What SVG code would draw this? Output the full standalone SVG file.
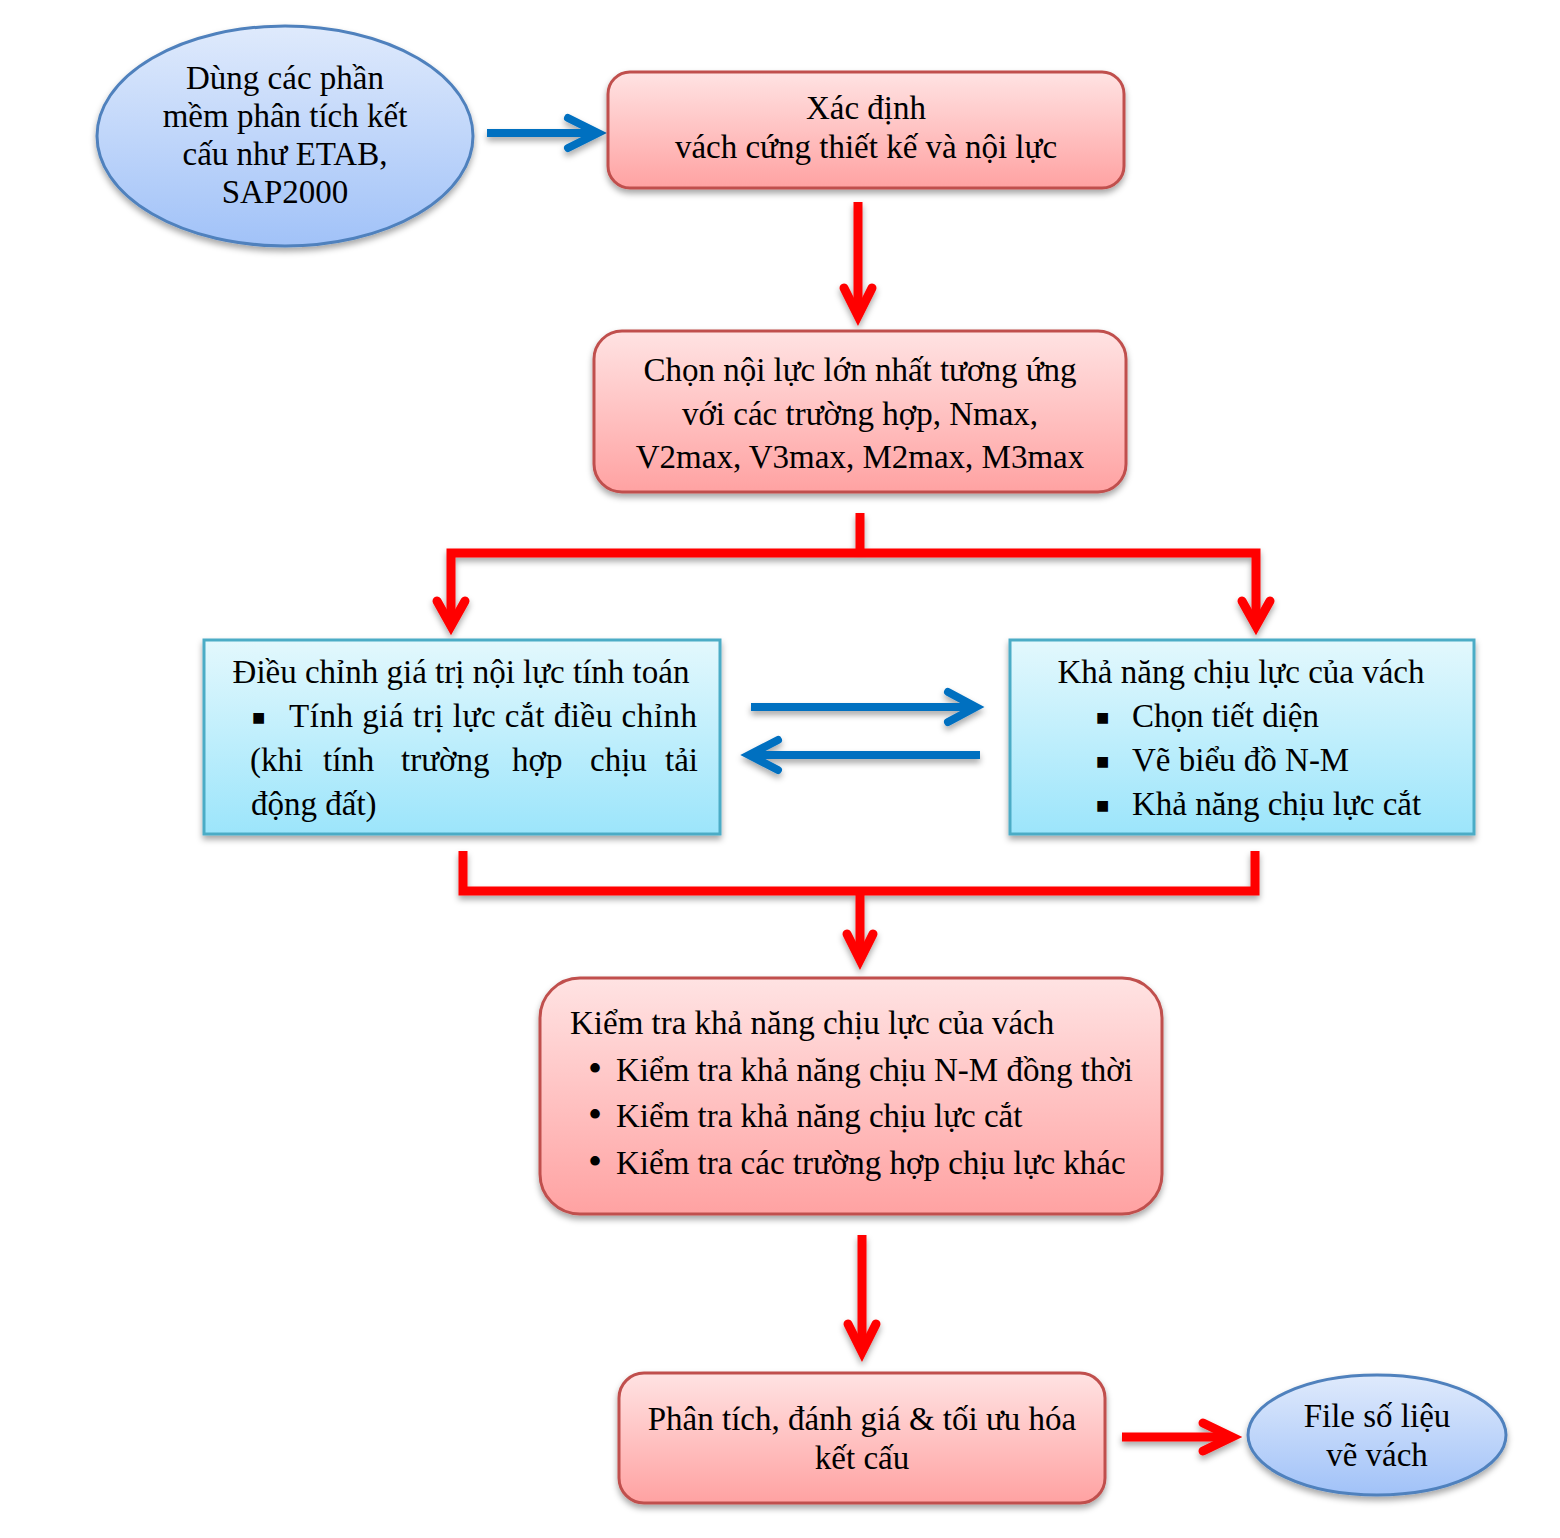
<svg xmlns="http://www.w3.org/2000/svg" width="1560" height="1538" viewBox="0 0 1560 1538">
<defs>
<linearGradient id="gPink" x1="0" y1="0" x2="0" y2="1"><stop offset="0" stop-color="#ffe3e3"/><stop offset="1" stop-color="#ffa2a2"/></linearGradient>
<linearGradient id="gBlue" x1="0" y1="0" x2="0" y2="1"><stop offset="0" stop-color="#dfeafc"/><stop offset="1" stop-color="#a1c2f8"/></linearGradient>
<linearGradient id="gCyan" x1="0" y1="0" x2="0" y2="1"><stop offset="0" stop-color="#e3f8fd"/><stop offset="1" stop-color="#9ce5fb"/></linearGradient>
<filter id="sh" x="-10%" y="-10%" width="120%" height="130%"><feDropShadow dx="0" dy="4" stdDeviation="3" flood-color="#000" flood-opacity="0.35"/></filter>
</defs>
<style>
text{font-family:"Liberation Serif","Times New Roman",serif;font-size:33px;fill:#000}
.c{text-anchor:middle}
.pink{fill:url(#gPink);stroke:#c0504d;stroke-width:3}
.ell{fill:url(#gBlue);stroke:#4f81bd;stroke-width:3}
.cyan{fill:url(#gCyan);stroke:#4bacc6;stroke-width:3}
.red{fill:none;stroke:#ff0000;stroke-width:9}
.redh{fill:none;stroke:#ff0000;stroke-width:9;stroke-linecap:round;stroke-linejoin:miter;stroke-miterlimit:10}
.blue{fill:none;stroke:#0070c0;stroke-width:8}
.blueh{fill:none;stroke:#0070c0;stroke-width:8;stroke-linecap:round;stroke-linejoin:miter;stroke-miterlimit:10}
.sq{font-size:22px}
</style>
<rect width="1560" height="1538" fill="#fff"/>

<g id="connectors">
<g filter="url(#sh)">
<line class="blue" x1="487" y1="133" x2="595" y2="133"/>
<polyline class="blueh" points="568,118 598,133 568,148"/>
<line class="red" x1="858" y1="202" x2="858" y2="312"/>
<polyline class="redh" points="844,288 858,316 872,288"/>
<polyline class="red" points="860,513 860,553"/>
<polyline class="red" points="451,626 451,553 1256,553 1256,626"/>
<polyline class="redh" points="437,601 451,626 465,601"/>
<polyline class="redh" points="1242,601 1256,626 1270,601"/>
<line class="blue" x1="751" y1="707" x2="972" y2="707"/>
<polyline class="blueh" points="948,692 976,707 948,722"/>
<line class="blue" x1="980" y1="755" x2="752" y2="755"/>
<polyline class="blueh" points="778,740 749,755 778,770"/>
<polyline class="red" points="463,851 463,891 1255,891 1255,851"/>
<line class="red" x1="860" y1="891" x2="860" y2="958"/>
<polyline class="redh" points="847,934 860,960 873,934"/>
<line class="red" x1="862" y1="1235" x2="862" y2="1348"/>
<polyline class="redh" points="848,1324 862,1352 876,1324"/>
<line class="red" x1="1122" y1="1437" x2="1228" y2="1437"/>
<polyline class="redh" points="1203,1423 1232,1437 1203,1451"/>
</g>
</g>

<g id="n-software">
<ellipse class="ell" cx="285" cy="136" rx="188" ry="110" filter="url(#sh)"/>
<text class="c" x="285" y="89">Dùng các phần</text>
<text class="c" x="285" y="127">mềm phân tích kết</text>
<text class="c" x="285" y="165">cấu như ETAB,</text>
<text class="c" x="285" y="203">SAP2000</text>
</g>

<g id="n-xacdinh">
<rect class="pink" x="608" y="72" width="516" height="116" rx="22" filter="url(#sh)"/>
<text class="c" x="866" y="119">Xác định</text>
<text class="c" x="866" y="158">vách cứng thiết kế và nội lực</text>
</g>

<g id="n-chon">
<rect class="pink" x="594" y="331" width="532" height="161" rx="28" filter="url(#sh)"/>
<text class="c" x="860" y="381">Chọn nội lực lớn nhất tương ứng</text>
<text class="c" x="860" y="425">với các trường hợp, Nmax,</text>
<text class="c" x="860" y="468">V2max, V3max, M2max, M3max</text>
</g>

<g id="n-dieuchinh">
<rect class="cyan" x="204" y="640" width="516" height="194" filter="url(#sh)"/>
<text class="c" x="461" y="683">Điều chỉnh giá trị nội lực tính toán</text>
<text class="sq" x="252" y="725">■</text>
<text x="289" y="727" textLength="408" lengthAdjust="spacing">Tính giá trị lực cắt điều chỉnh</text>
<text x="250" y="771">(khi</text>
<text x="323" y="771">tính</text>
<text x="401" y="771">trường</text>
<text x="512" y="771">hợp</text>
<text x="590" y="771">chịu</text>
<text x="698" y="771" text-anchor="end">tải</text>
<text x="251" y="815">động đất)</text>
</g>

<g id="n-khanang">
<rect class="cyan" x="1010" y="640" width="464" height="194" filter="url(#sh)"/>
<text class="c" x="1241" y="683">Khả năng chịu lực của vách</text>
<text class="sq" x="1096" y="725">■</text>
<text x="1132" y="727">Chọn tiết diện</text>
<text class="sq" x="1096" y="769">■</text>
<text x="1132" y="771">Vẽ biểu đồ N-M</text>
<text class="sq" x="1096" y="813">■</text>
<text x="1132" y="815">Khả năng chịu lực cắt</text>
</g>

<g id="n-kiemtra">
<rect class="pink" x="540" y="978" width="622" height="236" rx="40" filter="url(#sh)"/>
<text x="570" y="1034">Kiểm tra khả năng chịu lực của vách</text>
<text x="588" y="1082" style="font-size:40px">•</text>
<text x="616" y="1081">Kiểm tra khả năng chịu N-M đồng thời</text>
<text x="588" y="1128" style="font-size:40px">•</text>
<text x="616" y="1127">Kiểm tra khả năng chịu lực cắt</text>
<text x="588" y="1175" style="font-size:40px">•</text>
<text x="616" y="1174">Kiểm tra các trường hợp chịu lực khác</text>
</g>

<g id="n-phantich">
<rect class="pink" x="619" y="1373" width="486" height="130" rx="25" filter="url(#sh)"/>
<text class="c" x="862" y="1430">Phân tích, đánh giá &amp; tối ưu hóa</text>
<text class="c" x="862" y="1469">kết cấu</text>
</g>

<g id="n-file">
<ellipse class="ell" cx="1377" cy="1435" rx="129" ry="60" filter="url(#sh)"/>
<text class="c" x="1377" y="1427">File số liệu</text>
<text class="c" x="1377" y="1466">vẽ vách</text>
</g>
</svg>
